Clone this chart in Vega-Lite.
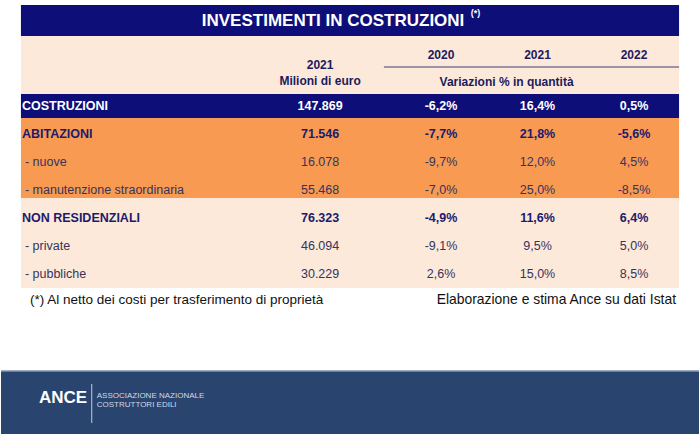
{
  "$schema": "https://vega.github.io/schema/vega-lite/v6.json",
  "width": 700,
  "height": 434,
  "autosize": {"type": "fit", "contains": "padding"},
  "padding": 0,
  "background": "white",
  "config": {
    "view": {"stroke": null},
    "axis": {"disable": true},
    "legend": {"disable": true},
    "locale": {"number": {"decimal": ",", "thousands": ".", "grouping": [3], "currency": ["", " €"], "minus": "-"}}
  },
  "datasets": {
    "righe": [
      {"voce": "COSTRUZIONI", "gruppo": "totale", "livello": "totale", "milioni_2021": 147869, "2020": -0.062, "2021": 0.164, "2022": 0.005},
      {"voce": "ABITAZIONI", "gruppo": "abitazioni", "livello": "gruppo", "milioni_2021": 71546, "2020": -0.077, "2021": 0.218, "2022": -0.056},
      {"voce": "- nuove", "gruppo": "abitazioni", "livello": "voce", "milioni_2021": 16078, "2020": -0.097, "2021": 0.12, "2022": 0.045},
      {"voce": "- manutenzione straordinaria", "gruppo": "abitazioni", "livello": "voce", "milioni_2021": 55468, "2020": -0.07, "2021": 0.25, "2022": -0.085},
      {"voce": "NON RESIDENZIALI", "gruppo": "non residenziali", "livello": "gruppo", "milioni_2021": 76323, "2020": -0.049, "2021": 0.116, "2022": 0.064},
      {"voce": "- private", "gruppo": "non residenziali", "livello": "voce", "milioni_2021": 46094, "2020": -0.091, "2021": 0.095, "2022": 0.05},
      {"voce": "- pubbliche", "gruppo": "non residenziali", "livello": "voce", "milioni_2021": 30229, "2020": 0.026, "2021": 0.15, "2022": 0.085}
    ],
    "anni": [{"anno": 2020}, {"anno": 2021}, {"anno": 2022}]
  },
  "resolve": {"scale": {"x": "independent", "y": "independent", "color": "independent"}},
  "layer": [
    {
      "data": {"values": [{}]},
      "mark": {"type": "rect", "color": "#0e0e78"},
      "encoding": {
        "x": {"datum": 20, "type": "quantitative", "scale": {"domain": [0, 700], "nice": false, "zero": false}},
        "x2": {"datum": 680},
        "y": {"datum": 5, "type": "quantitative", "scale": {"domain": [0, 434], "nice": false, "zero": false, "reverse": true}},
        "y2": {"datum": 36}
      }
    },
    {
      "data": {"values": [{}]},
      "mark": {"type": "rect", "color": "#fde9d9"},
      "encoding": {
        "x": {"datum": 20, "type": "quantitative", "scale": {"domain": [0, 700], "nice": false, "zero": false}},
        "x2": {"datum": 680},
        "y": {"datum": 36, "type": "quantitative", "scale": {"domain": [0, 434], "nice": false, "zero": false, "reverse": true}},
        "y2": {"datum": 94}
      }
    },
    {
      "data": {"values": [{}]},
      "mark": {"type": "rect", "color": "#0e0e78"},
      "encoding": {
        "x": {"datum": 20, "type": "quantitative", "scale": {"domain": [0, 700], "nice": false, "zero": false}},
        "x2": {"datum": 680},
        "y": {"datum": 94, "type": "quantitative", "scale": {"domain": [0, 434], "nice": false, "zero": false, "reverse": true}},
        "y2": {"datum": 118}
      }
    },
    {
      "data": {"values": [{}]},
      "mark": {"type": "rect", "color": "#f89a52"},
      "encoding": {
        "x": {"datum": 20, "type": "quantitative", "scale": {"domain": [0, 700], "nice": false, "zero": false}},
        "x2": {"datum": 680},
        "y": {"datum": 118, "type": "quantitative", "scale": {"domain": [0, 434], "nice": false, "zero": false, "reverse": true}},
        "y2": {"datum": 198}
      }
    },
    {
      "data": {"values": [{}]},
      "mark": {"type": "rect", "color": "#fde9d9"},
      "encoding": {
        "x": {"datum": 20, "type": "quantitative", "scale": {"domain": [0, 700], "nice": false, "zero": false}},
        "x2": {"datum": 680},
        "y": {"datum": 198, "type": "quantitative", "scale": {"domain": [0, 434], "nice": false, "zero": false, "reverse": true}},
        "y2": {"datum": 288}
      }
    },
    {
      "data": {"values": [{}]},
      "mark": {"type": "rect", "color": "#29446f"},
      "encoding": {
        "x": {"datum": 0, "type": "quantitative", "scale": {"domain": [0, 700], "nice": false, "zero": false}},
        "x2": {"datum": 700},
        "y": {"datum": 371, "type": "quantitative", "scale": {"domain": [0, 434], "nice": false, "zero": false, "reverse": true}},
        "y2": {"datum": 434}
      }
    },
    {
      "data": {"values": [{}]},
      "mark": {"type": "rule", "color": "#8593b0", "strokeWidth": 1.5},
      "encoding": {
        "x": {"datum": 0, "type": "quantitative", "scale": {"domain": [0, 700], "nice": false, "zero": false}},
        "x2": {"datum": 700},
        "y": {"datum": 371, "type": "quantitative", "scale": {"domain": [0, 434], "nice": false, "zero": false, "reverse": true}}
      }
    },
    {
      "data": {"name": "righe"},
      "transform": [{"filter": {"field": "livello", "oneOf": ["totale", "gruppo"]}}],
      "mark": {"type": "text", "align": "left", "baseline": "middle", "font": "Liberation Sans, Arial, sans-serif", "fontSize": 12.5, "fontWeight": "bold"},
      "encoding": {
        "x": {"datum": 21, "type": "quantitative", "scale": {"domain": [0, 700], "nice": false, "zero": false}},
        "y": {"field": "voce", "type": "nominal", "scale": {"type": "band", "domain": ["COSTRUZIONI", "ABITAZIONI", "- nuove", "- manutenzione straordinaria", "NON RESIDENZIALI", "- private", "- pubbliche"], "range": [92, 288], "paddingInner": 0, "paddingOuter": 0}},
        "text": {"field": "voce", "type": "nominal"},
        "color": {"field": "livello", "type": "nominal", "scale": {"domain": ["totale", "gruppo", "voce"], "range": ["#ffffff", "#1b1b6e", "#34345e"]}}
      }
    },
    {
      "data": {"name": "righe"},
      "transform": [{"filter": {"field": "livello", "equal": "voce"}}],
      "mark": {"type": "text", "align": "left", "baseline": "middle", "font": "Liberation Sans, Arial, sans-serif", "fontSize": 12.5},
      "encoding": {
        "x": {"datum": 24, "type": "quantitative", "scale": {"domain": [0, 700], "nice": false, "zero": false}},
        "y": {"field": "voce", "type": "nominal", "scale": {"type": "band", "domain": ["COSTRUZIONI", "ABITAZIONI", "- nuove", "- manutenzione straordinaria", "NON RESIDENZIALI", "- private", "- pubbliche"], "range": [92, 288], "paddingInner": 0, "paddingOuter": 0}},
        "text": {"field": "voce", "type": "nominal"},
        "color": {"field": "livello", "type": "nominal", "scale": {"domain": ["totale", "gruppo", "voce"], "range": ["#ffffff", "#1b1b6e", "#34345e"]}}
      }
    },
    {
      "data": {"name": "righe"},
      "transform": [{"filter": {"field": "livello", "oneOf": ["totale", "gruppo"]}}],
      "mark": {"type": "text", "align": "center", "baseline": "middle", "font": "Liberation Sans, Arial, sans-serif", "fontSize": 12.5, "fontWeight": "bold"},
      "encoding": {
        "x": {"datum": 320, "type": "quantitative", "scale": {"domain": [0, 700], "nice": false, "zero": false}},
        "y": {"field": "voce", "type": "nominal", "scale": {"type": "band", "domain": ["COSTRUZIONI", "ABITAZIONI", "- nuove", "- manutenzione straordinaria", "NON RESIDENZIALI", "- private", "- pubbliche"], "range": [92, 288], "paddingInner": 0, "paddingOuter": 0}},
        "text": {"field": "milioni_2021", "type": "quantitative", "format": ",.0f"},
        "color": {"field": "livello", "type": "nominal", "scale": {"domain": ["totale", "gruppo", "voce"], "range": ["#ffffff", "#1b1b6e", "#34345e"]}}
      }
    },
    {
      "data": {"name": "righe"},
      "transform": [{"filter": {"field": "livello", "equal": "voce"}}],
      "mark": {"type": "text", "align": "center", "baseline": "middle", "font": "Liberation Sans, Arial, sans-serif", "fontSize": 12.5},
      "encoding": {
        "x": {"datum": 320, "type": "quantitative", "scale": {"domain": [0, 700], "nice": false, "zero": false}},
        "y": {"field": "voce", "type": "nominal", "scale": {"type": "band", "domain": ["COSTRUZIONI", "ABITAZIONI", "- nuove", "- manutenzione straordinaria", "NON RESIDENZIALI", "- private", "- pubbliche"], "range": [92, 288], "paddingInner": 0, "paddingOuter": 0}},
        "text": {"field": "milioni_2021", "type": "quantitative", "format": ",.0f"},
        "color": {"field": "livello", "type": "nominal", "scale": {"domain": ["totale", "gruppo", "voce"], "range": ["#ffffff", "#1b1b6e", "#34345e"]}}
      }
    },
    {
      "data": {"name": "righe"},
      "transform": [{"filter": {"field": "livello", "oneOf": ["totale", "gruppo"]}}, {"fold": ["2020", "2021", "2022"], "as": ["anno", "variazione"]}],
      "mark": {"type": "text", "align": "center", "baseline": "middle", "font": "Liberation Sans, Arial, sans-serif", "fontSize": 12.5, "fontWeight": "bold"},
      "encoding": {
        "x": {"field": "anno", "type": "quantitative", "scale": {"domain": [2020, 2022], "range": [440, 633], "nice": false, "zero": false}},
        "y": {"field": "voce", "type": "nominal", "scale": {"type": "band", "domain": ["COSTRUZIONI", "ABITAZIONI", "- nuove", "- manutenzione straordinaria", "NON RESIDENZIALI", "- private", "- pubbliche"], "range": [92, 288], "paddingInner": 0, "paddingOuter": 0}},
        "text": {"field": "variazione", "type": "quantitative", "format": ".1%"},
        "color": {"field": "livello", "type": "nominal", "scale": {"domain": ["totale", "gruppo", "voce"], "range": ["#ffffff", "#1b1b6e", "#34345e"]}}
      }
    },
    {
      "data": {"name": "righe"},
      "transform": [{"filter": {"field": "livello", "equal": "voce"}}, {"fold": ["2020", "2021", "2022"], "as": ["anno", "variazione"]}],
      "mark": {"type": "text", "align": "center", "baseline": "middle", "font": "Liberation Sans, Arial, sans-serif", "fontSize": 12.5},
      "encoding": {
        "x": {"field": "anno", "type": "quantitative", "scale": {"domain": [2020, 2022], "range": [440, 633], "nice": false, "zero": false}},
        "y": {"field": "voce", "type": "nominal", "scale": {"type": "band", "domain": ["COSTRUZIONI", "ABITAZIONI", "- nuove", "- manutenzione straordinaria", "NON RESIDENZIALI", "- private", "- pubbliche"], "range": [92, 288], "paddingInner": 0, "paddingOuter": 0}},
        "text": {"field": "variazione", "type": "quantitative", "format": ".1%"},
        "color": {"field": "livello", "type": "nominal", "scale": {"domain": ["totale", "gruppo", "voce"], "range": ["#ffffff", "#1b1b6e", "#34345e"]}}
      }
    },
    {
      "data": {"name": "anni"},
      "mark": {"type": "text", "align": "center", "baseline": "middle", "font": "Liberation Sans, Arial, sans-serif", "fontSize": 12, "fontWeight": "bold", "color": "#1b1b5e"},
      "encoding": {
        "x": {"field": "anno", "type": "quantitative", "scale": {"domain": [2020, 2022], "range": [440, 633], "nice": false, "zero": false}},
        "y": {"datum": 55, "type": "quantitative", "scale": {"domain": [0, 434], "nice": false, "zero": false, "reverse": true}},
        "text": {"field": "anno", "type": "nominal"}
      }
    },
    {
      "data": {"values": [{}]},
      "mark": {"type": "rule", "color": "#3b3b7a", "strokeWidth": 1},
      "encoding": {
        "x": {"datum": 384, "type": "quantitative", "scale": {"domain": [0, 700], "nice": false, "zero": false}},
        "x2": {"datum": 680},
        "y": {"datum": 67, "type": "quantitative", "scale": {"domain": [0, 434], "nice": false, "zero": false, "reverse": true}}
      }
    },
    {
      "data": {"values": [{"testo": "Variazioni % in quantità"}]},
      "mark": {"type": "text", "align": "center", "baseline": "middle", "font": "Liberation Sans, Arial, sans-serif", "fontSize": 12, "fontWeight": "bold", "color": "#1b1b5e"},
      "encoding": {
        "x": {"datum": 507, "type": "quantitative", "scale": {"domain": [0, 700], "nice": false, "zero": false}},
        "y": {"datum": 82, "type": "quantitative", "scale": {"domain": [0, 434], "nice": false, "zero": false, "reverse": true}},
        "text": {"field": "testo", "type": "nominal"}
      }
    },
    {
      "data": {"values": [{"testo": ["2021", "Milioni di euro"]}]},
      "mark": {"type": "text", "align": "center", "baseline": "middle", "font": "Liberation Sans, Arial, sans-serif", "fontSize": 12, "fontWeight": "bold", "color": "#1b1b5e", "lineHeight": 16},
      "encoding": {
        "x": {"datum": 320, "type": "quantitative", "scale": {"domain": [0, 700], "nice": false, "zero": false}},
        "y": {"datum": 65, "type": "quantitative", "scale": {"domain": [0, 434], "nice": false, "zero": false, "reverse": true}},
        "text": {"field": "testo", "type": "nominal"}
      }
    },
    {
      "data": {"values": [{"testo": "INVESTIMENTI IN COSTRUZIONI"}]},
      "mark": {"type": "text", "align": "center", "baseline": "middle", "font": "Liberation Sans, Arial, sans-serif", "fontSize": 17, "fontWeight": "bold", "color": "#ffffff"},
      "encoding": {
        "x": {"datum": 333, "type": "quantitative", "scale": {"domain": [0, 700], "nice": false, "zero": false}},
        "y": {"datum": 21, "type": "quantitative", "scale": {"domain": [0, 434], "nice": false, "zero": false, "reverse": true}},
        "text": {"field": "testo", "type": "nominal"}
      }
    },
    {
      "data": {"values": [{"testo": "(*)"}]},
      "mark": {"type": "text", "align": "left", "baseline": "middle", "font": "Liberation Sans, Arial, sans-serif", "fontSize": 9, "fontWeight": "bold", "color": "#ffffff"},
      "encoding": {
        "x": {"datum": 471, "type": "quantitative", "scale": {"domain": [0, 700], "nice": false, "zero": false}},
        "y": {"datum": 13, "type": "quantitative", "scale": {"domain": [0, 434], "nice": false, "zero": false, "reverse": true}},
        "text": {"field": "testo", "type": "nominal"}
      }
    },
    {
      "data": {"values": [{"testo": "(*) Al netto dei costi per trasferimento di proprietà"}]},
      "mark": {"type": "text", "align": "left", "baseline": "middle", "font": "Liberation Sans, Arial, sans-serif", "fontSize": 13.5, "color": "#111111"},
      "encoding": {
        "x": {"datum": 29, "type": "quantitative", "scale": {"domain": [0, 700], "nice": false, "zero": false}},
        "y": {"datum": 300, "type": "quantitative", "scale": {"domain": [0, 434], "nice": false, "zero": false, "reverse": true}},
        "text": {"field": "testo", "type": "nominal"}
      }
    },
    {
      "data": {"values": [{"testo": "Elaborazione e stima Ance su dati Istat"}]},
      "mark": {"type": "text", "align": "right", "baseline": "middle", "font": "Liberation Sans, Arial, sans-serif", "fontSize": 13.9, "color": "#111111"},
      "encoding": {
        "x": {"datum": 677, "type": "quantitative", "scale": {"domain": [0, 700], "nice": false, "zero": false}},
        "y": {"datum": 300, "type": "quantitative", "scale": {"domain": [0, 434], "nice": false, "zero": false, "reverse": true}},
        "text": {"field": "testo", "type": "nominal"}
      }
    },
    {
      "data": {"values": [{"testo": "ANCE"}]},
      "mark": {"type": "text", "align": "left", "baseline": "middle", "font": "Liberation Sans, Arial, sans-serif", "fontSize": 17, "fontWeight": "bold", "color": "#ffffff"},
      "encoding": {
        "x": {"datum": 38, "type": "quantitative", "scale": {"domain": [0, 700], "nice": false, "zero": false}},
        "y": {"datum": 398, "type": "quantitative", "scale": {"domain": [0, 434], "nice": false, "zero": false, "reverse": true}},
        "text": {"field": "testo", "type": "nominal"}
      }
    },
    {
      "data": {"values": [{}]},
      "mark": {"type": "rule", "color": "#c5cddc", "strokeWidth": 1},
      "encoding": {
        "x": {"datum": 91, "type": "quantitative", "scale": {"domain": [0, 700], "nice": false, "zero": false}},
        "y": {"datum": 384, "type": "quantitative", "scale": {"domain": [0, 434], "nice": false, "zero": false, "reverse": true}},
        "y2": {"datum": 423}
      }
    },
    {
      "data": {"values": [{"testo": ["ASSOCIAZIONE NAZIONALE", "COSTRUTTORI EDILI"]}]},
      "mark": {"type": "text", "align": "left", "baseline": "middle", "font": "Liberation Sans, Arial, sans-serif", "fontSize": 8, "color": "#d3d9e5", "lineHeight": 8.5},
      "encoding": {
        "x": {"datum": 96, "type": "quantitative", "scale": {"domain": [0, 700], "nice": false, "zero": false}},
        "y": {"datum": 396, "type": "quantitative", "scale": {"domain": [0, 434], "nice": false, "zero": false, "reverse": true}},
        "text": {"field": "testo", "type": "nominal"}
      }
    }
  ]
}
